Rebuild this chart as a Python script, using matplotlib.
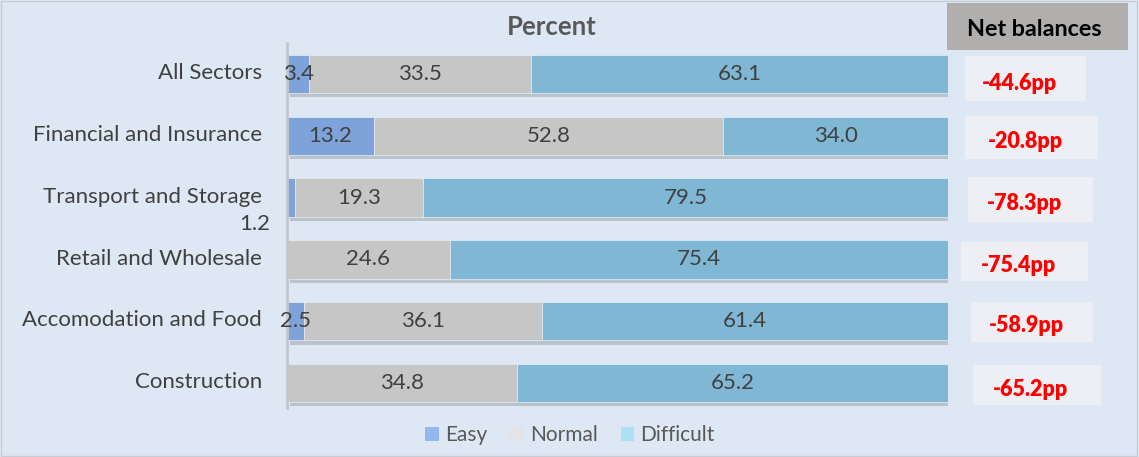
import matplotlib
matplotlib.use("Agg")
import matplotlib.pyplot as plt
from matplotlib.patches import Rectangle
import matplotlib.patheffects as pe
import matplotlib.transforms as mt

categories = ["All Sectors", "Financial and Insurance", "Transport and Storage",
              "Retail and Wholesale", "Accomodation and Food", "Construction"]
easy = [3.4, 13.2, 1.2, 0.0, 2.5, 0.0]
normal = [33.5, 52.8, 19.3, 24.6, 36.1, 34.8]
difficult = [63.1, 34.0, 79.5, 75.4, 61.4, 65.2]
net_balances = ["-44.6pp", "-20.8pp", "-78.3pp", "-75.4pp", "-58.9pp", "-65.2pp"]
series_names = ["Easy", "Normal", "Difficult"]

plt.rcParams["font.family"] = ["Lato", "DejaVu Sans"]

W, H = 1139, 457
fig = plt.figure(figsize=(W / 100, H / 100), dpi=100)
bg = "#dde8f4"
fig.patch.set_facecolor(bg)
fig.patches.append(Rectangle((0.001, 0.002), 0.997, 0.995, transform=fig.transFigure,
                             fill=False, edgecolor="#c9cdd3", lw=1))

ax_l, ax_r = 287 / W, 948 / W
ax_t, ax_b = 43 / H, 414 / H
ax = fig.add_axes([ax_l, 1 - ax_b, ax_r - ax_l, ax_b - ax_t])
ax.set_facecolor(bg)

colors = ["#7ea3da", "#c6c6c6", "#80b7d4"]
legend_colors = ["#94b8ee", "#e4e4e6", "#ade0f5"]
txtc = "#404040"
fs = 16
y = list(range(len(categories)))
left = [0] * len(categories)
shadow = [pe.SimplePatchShadow(offset=(2, -3), alpha=0.25, shadow_rgbFace="#555555"), pe.Normal()]
for vals, col, name in zip([easy, normal, difficult], colors, series_names):
    bars = ax.barh(y, vals, left=left, height=0.62, color=col, edgecolor="#e8eef5",
                   linewidth=0.5)
    for b in bars:
        b.set_path_effects(shadow)
    for i, v in enumerate(vals):
        if v <= 0:
            continue
        if name == "Easy" and v < 2:
            ax.text(-2.5, i + 0.42, f"{v:.1f}", ha="right", va="center",
                    fontsize=fs, color=txtc, clip_on=False)
        else:
            ax.text(left[i] + v / 2, i, f"{v:.1f}", ha="center", va="center",
                    fontsize=fs, color=txtc)
    left = [l + v for l, v in zip(left, vals)]

ax.set_xlim(0, 100)
ax.set_ylim(len(categories) - 0.5, -0.5)
ax.set_xticks([])
ax.set_yticks(y)
ax.set_yticklabels(categories, fontsize=fs, color=txtc)
ax.tick_params(axis="y", length=0, pad=18)
for s in ["top", "right", "bottom"]:
    ax.spines[s].set_visible(False)
ax.spines["left"].set_color("#c4c7cc")
ax.spines["left"].set_linewidth(2)
ax.spines["left"].set_bounds(len(categories) - 0.6, -0.5)

off = mt.ScaledTranslation(0, 2 / 72, fig.dpi_scale_trans)
for lab in ax.get_yticklabels():
    lab.set_transform(lab.get_transform() + off)

fig.text(552 / W, 1 - 27 / H, "Percent", ha="center", va="center", fontsize=18.5,
         fontweight="bold", color="#595959")

fig.patches.append(Rectangle((947 / W, 1 - 50 / H), 181 / W, 47 / H, transform=fig.transFigure,
                             facecolor="#b1aeae", edgecolor="none"))
fig.text(1034 / W, 1 - 29 / H, "Net balances", ha="center", va="center", fontsize=16.8,
         fontweight="bold", color="black")

box_x = [965, 965, 968, 961, 971, 973]
box_w = [121, 133, 125, 127, 122, 128]
box_top = [56, 116, 177, 242, 302, 365]
box_h = [45, 43, 45, 39, 40, 40]
for i, txt in enumerate(net_balances):
    fig.patches.append(Rectangle((box_x[i] / W, 1 - (box_top[i] + box_h[i]) / H), box_w[i] / W,
                                 box_h[i] / H, transform=fig.transFigure,
                                 facecolor="#eeeff4", edgecolor="none"))
    fig.text((box_x[i] + box_w[i] / 2 - 6) / W, 1 - (box_top[i] + box_h[i] * 0.6) / H, txt,
             ha="center", va="center", fontsize=15.5, fontweight="heavy", color="#ff0000")

handles = [Rectangle((0, 0), 1, 1, facecolor=c, edgecolor="none") for c in legend_colors]
leg = fig.legend(handles, series_names, loc="center", bbox_to_anchor=(570 / W, 1 - 435 / H),
                 ncol=3, frameon=False, fontsize=15, handlelength=0.65, handleheight=0.65,
                 handletextpad=0.3, columnspacing=1.1, labelcolor="#595959")

fig.savefig("out.png", dpi=100, facecolor=fig.get_facecolor())
